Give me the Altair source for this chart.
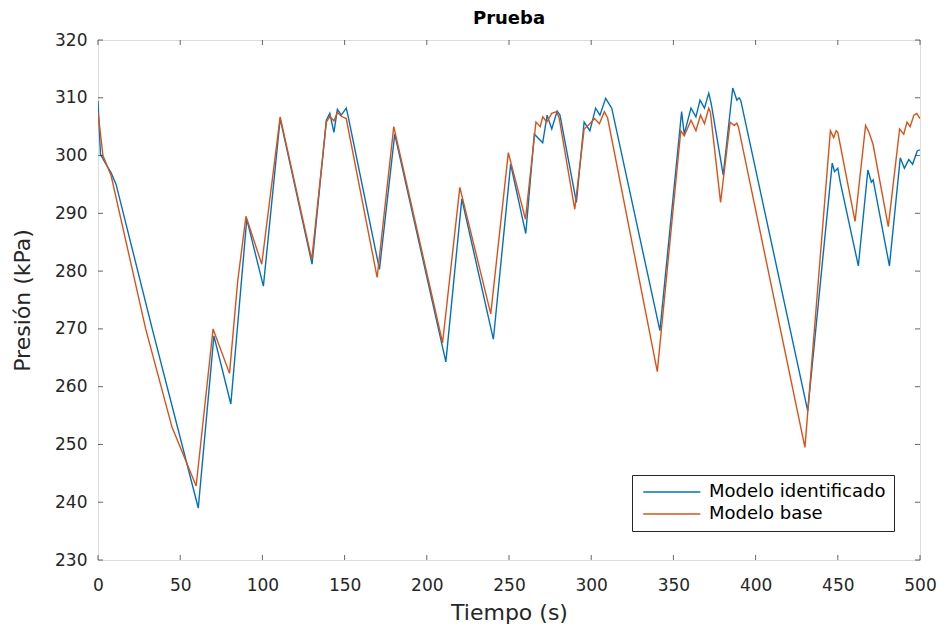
import altair as alt
import pandas as pd

# ---- data ----
t_ident = [0, 1.5, 4.5, 8, 11, 33, 61, 70.5, 80.8, 90.5, 100.6, 110.8, 130.2, 138.9, 141, 143.5,
           145.6, 148, 151, 152, 171.2, 180.5, 211.6, 221.3, 240.5, 251, 260.2, 265.4, 270.5,
           273.2, 276, 279.3, 281, 291, 295.7, 299.2, 302.7, 305.3, 308.8, 312.5, 341.8, 355,
           356.6, 360.7, 363.7, 366.2, 368.9, 371.5, 373, 380.3, 386.1, 388.6, 390, 391, 431.7,
           446.6, 448, 450, 451.5, 462.5, 468.3, 470.4, 471.5, 481.4, 488, 490.5, 493.2, 495.5,
           498.3, 500]
p_ident = [309.5, 300.2, 298.7, 297, 295, 270, 239, 268.8, 257, 289, 277.4, 306.4, 281.2, 306.1,
           307.3, 304, 308, 307, 308.2, 307, 280.3, 303.7, 264.3, 292.5, 268.2, 298.5, 286.5,
           303.7, 302.2, 307, 304.6, 307.7, 307, 291.9, 305.8, 304.3, 308.2, 307, 309.9, 308.2,
           269.7, 307.6, 303.7, 308.2, 306.7, 309.6, 308.2, 310.8, 309, 296.6, 311.7, 309.6,
           310, 309.5, 255.8, 298.7, 297.2, 297.8, 295.4, 280.9, 297.5, 295.4, 295.8, 280.9,
           299.6, 297.8, 299.3, 298.5, 300.8, 301]

t_base = [0, 3, 8, 29, 45, 59.7, 70, 80, 85, 90, 99.6, 110.8, 130, 138.9, 141, 143.5, 145.6, 148,
          151, 169.8, 179.9, 209.6, 220.1, 238.9, 249.6, 260, 266.4, 269, 270.5, 273, 276, 279,
          280.5, 290, 295.7, 299.2, 302, 305, 308, 310, 340.2, 354.5, 356.6, 360.7, 363.7, 366.5,
          368.9, 371.5, 372.5, 378.7, 384.5, 387, 388.6, 389.5, 430, 445.5, 447.5, 449, 450,
          460.5, 466.9, 469, 471.4, 480.7, 487.6, 490.1, 492.1, 494, 496.3, 498, 500]
p_base = [307.5, 300, 296.5, 270, 253, 242.8, 270, 262.3, 278.3, 289.5, 281.2, 306.7, 282, 305.8,
          306.8, 306, 307.5, 306.8, 306.4, 278.9, 305, 267.6, 294.5, 272.6, 300.5, 289, 305.8,
          305, 306.7, 305.8, 307.3, 307.6, 306.5, 290.7, 304.6, 305.5, 306.4, 305.5, 307.6,
          306.5, 262.6, 304.3, 303.4, 306.1, 304.3, 307, 305.5, 308.2, 307.5, 291.9, 305.8,
          305.2, 305.6, 305, 249.5, 304.3, 303.1, 304.3, 304, 288.6, 305.2, 304, 302, 287.7,
          304.6, 303.7, 305.8, 305, 307, 307.3, 306.4]

series_names = ["Modelo identificado", "Modelo base"]
series_colors = ["#0072BD", "#D95319"]
x_ticks = [0, 50, 100, 150, 200, 250, 300, 350, 400, 450, 500]
y_ticks = [230, 240, 250, 260, 270, 280, 290, 300, 310, 320]
chart_title = ["Prueba"]

df = pd.concat([
    pd.DataFrame({"t": t_ident, "p": p_ident, "serie": series_names[0], "o": 0}),
    pd.DataFrame({"t": t_base, "p": p_base, "serie": series_names[1], "o": 1}),
], ignore_index=True)

W, H = 822, 520
FONT = "DejaVu Sans"
AX = "#262626"

xscale = alt.Scale(domain=[0, 500], nice=False, zero=False)
yscale = alt.Scale(domain=[230, 320], nice=False, zero=False)

x_axis = alt.Axis(
    values=x_ticks, ticks=False, domain=False, grid=False, labelFlush=False,
    labelOverlap=False, labelFont=FONT, labelFontSize=17, labelColor=AX, labelPadding=17,
    title="Tiempo (s)", titleFont=FONT, titleFontSize=22, titleFontWeight="normal",
    titleColor=AX, titleX=W / 2, titleY=52, titleBaseline="middle")
y_axis = alt.Axis(
    values=y_ticks, ticks=False, domain=False, grid=False, labelFlush=False,
    labelOverlap=False, labelFont=FONT, labelFontSize=17, labelColor=AX, labelPadding=11,
    title="Presión (kPa)", titleFont=FONT, titleFontSize=22, titleFontWeight="normal",
    titleColor=AX, titleX=-76, titleY=H / 2, titleBaseline="middle")

lines = alt.Chart(df).mark_line(strokeWidth=1.4, clip=True).encode(
    x=alt.X("t:Q", scale=xscale, axis=x_axis),
    y=alt.Y("p:Q", scale=yscale, axis=y_axis),
    color=alt.Color("serie:N", scale=alt.Scale(domain=series_names, range=series_colors),
                    legend=alt.Legend(
                        orient="none", legendX=534, legendY=435, title=None,
                        symbolType="M-1,0H9", symbolSize=130, symbolStrokeWidth=1.4,
                        labelFont=FONT, labelFontSize=18, labelColor="black", labelLimit=0,
                        strokeColor=AX, fillColor="white", padding=8, labelOffset=51,
                        rowPadding=4)),
    order="o:Q",
    detail="serie:N",
)

xt = pd.DataFrame({"t": x_ticks})
yt = pd.DataFrame({"p": y_ticks})
tick_style = dict(color=AX, size=5, thickness=1)
xb = alt.Chart(xt).mark_tick(orient="vertical", **tick_style).encode(
    x=alt.X("t:Q", scale=xscale, axis=x_axis), y=alt.value(H - 2.5))
xtp = alt.Chart(xt).mark_tick(orient="vertical", **tick_style).encode(
    x=alt.X("t:Q", scale=xscale, axis=x_axis), y=alt.value(2.5))
yl = alt.Chart(yt).mark_tick(orient="horizontal", **tick_style).encode(
    y=alt.Y("p:Q", scale=yscale, axis=y_axis), x=alt.value(2.5))
yr = alt.Chart(yt).mark_tick(orient="horizontal", **tick_style).encode(
    y=alt.Y("p:Q", scale=yscale, axis=y_axis), x=alt.value(W - 2.5))

title_mark = alt.Chart(pd.DataFrame({"title": chart_title})).mark_text(
    font=FONT, fontSize=18, fontWeight="bold", color="black",
    align="center", baseline="alphabetic"
).encode(text="title:N", x=alt.value(W / 2), y=alt.value(-16))

chart = alt.layer(lines, xb, xtp, yl, yr, title_mark).properties(
    width=W, height=H,
    autosize=alt.AutoSizeParams(type="none"),
    padding={"left": 90, "top": 32, "right": 17, "bottom": 64},
).configure_view(stroke=AX, strokeWidth=1).configure_axis(
    grid=False, ticks=False, domain=False
).configure(background="white")

chart.save("out.html", embed_options={"renderer": "svg", "actions": False})
